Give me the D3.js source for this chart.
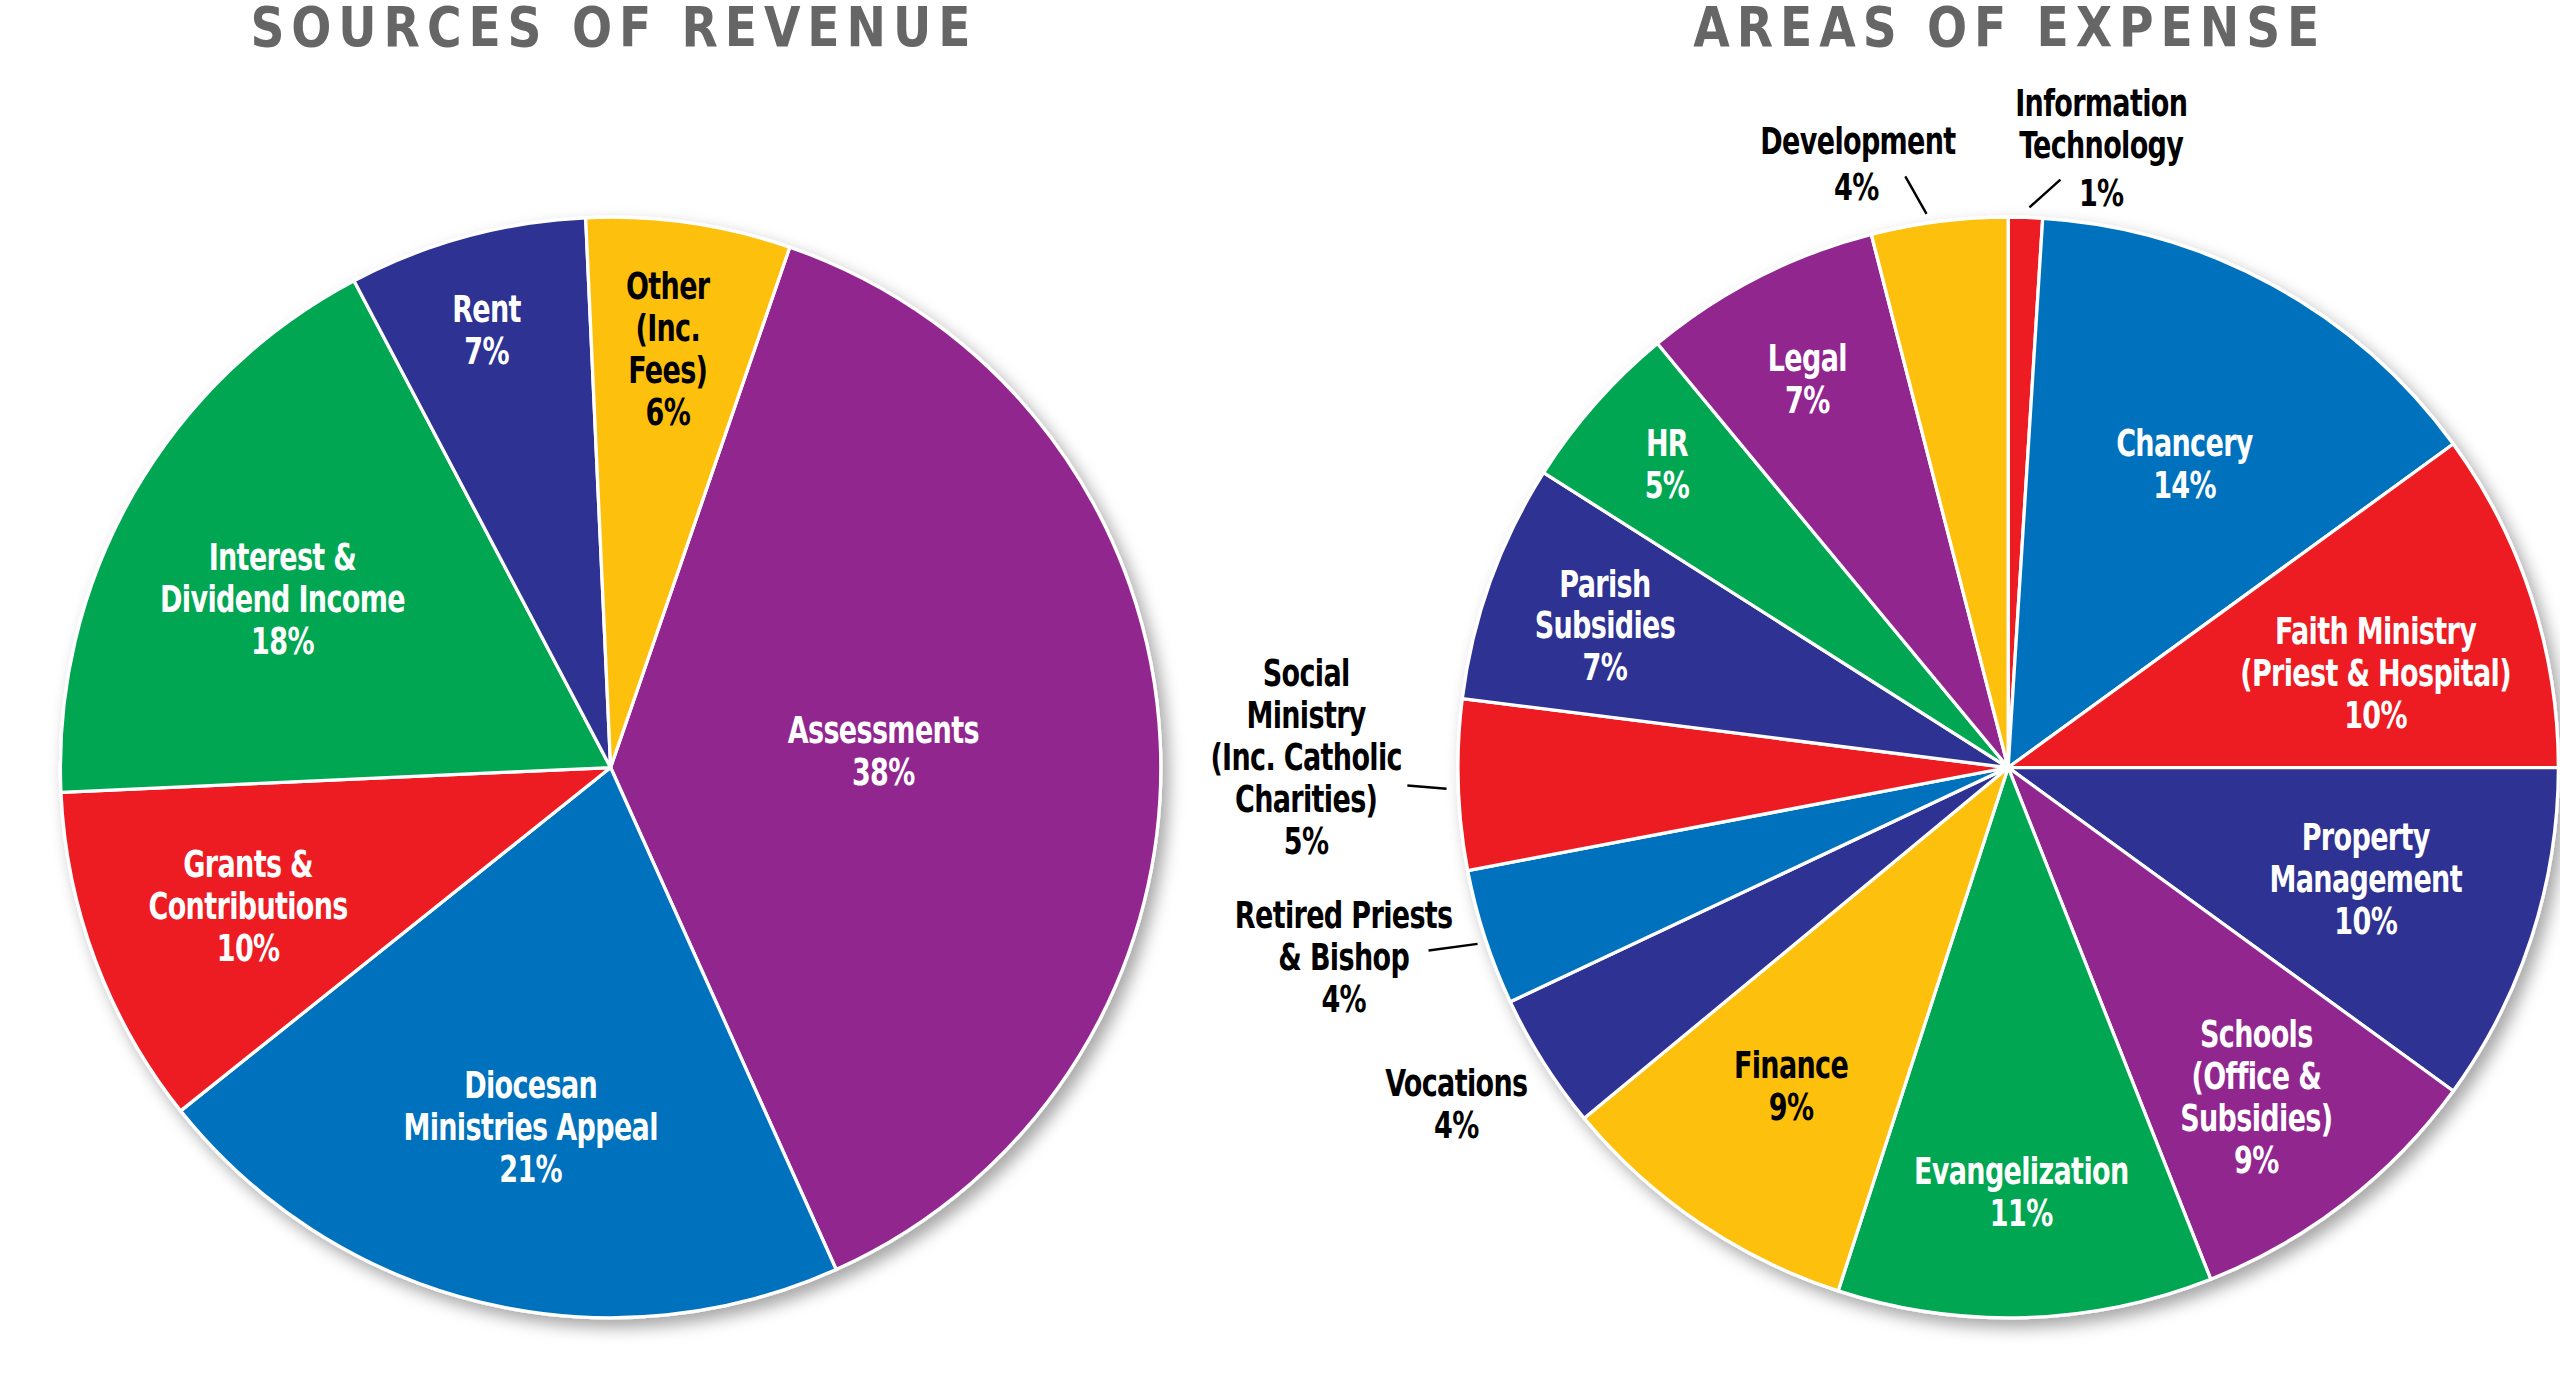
<!DOCTYPE html>
<html><head><meta charset="utf-8">
<script src="https://cdn.jsdelivr.net/npm/d3@7"></script>
<style>html,body{margin:0;padding:0;background:#fff;overflow:hidden}</style>
</head><body>
<script>
// Revenue data (clockwise from Assessments)
const revCats = ["Assessments","Diocesan Ministries Appeal","Grants & Contributions","Interest & Dividend Income","Rent","Other (Inc. Fees)"];
const revVals = [38,21,10,18,7,6];
const revColors = ["#92278f","#0071bc","#ed1c24","#00a651","#2e3192","#fdc010"];
const revLabels = [
  {lines:["Assessments","38%"],x:541,y:447,c:"#fff"},
  {lines:["Diocesan","Ministries Appeal","21%"],x:325,y:664,c:"#fff"},
  {lines:["Grants &","Contributions","10%"],x:152,y:529,c:"#fff"},
  {lines:["Interest &","Dividend Income","18%"],x:173,y:341,c:"#fff"},
  {lines:["Rent","7%"],x:298,y:189,c:"#fff"},
  {lines:["Other","(Inc.","Fees)","6%"],x:409,y:175,c:"#000"}
];
// Expense data (clockwise from top)
const expCats = ["Information Technology","Chancery","Faith Ministry","Property Management","Schools","Evangelization","Finance","Vocations","Retired Priests & Bishop","Social Ministry","Parish Subsidies","HR","Legal","Development"];
const expVals = [1,14,10,10,9,11,9,4,4,5,7,5,7,4];
const expColors = ["#ed1c24","#0071bc","#ed1c24","#2e3192","#92278f","#00a651","#fdc010","#2e3192","#0071bc","#ed1c24","#2e3192","#00a651","#92278f","#fdc010"];
const expLabels = [
  {lines:["Information","Technology"],x:1287,y:63,c:"#000"},
  {lines:["1%"],x:1287,y:118,c:"#000"},
  {lines:["Development"],x:1138,y:86,c:"#000"},
  {lines:["4%"],x:1137,y:114,c:"#000"},
  {lines:["Chancery","14%"],x:1338,y:271,c:"#fff"},
  {lines:["Faith Ministry","(Priest & Hospital)","10%"],x:1455,y:386,c:"#fff"},
  {lines:["Property","Management","10%"],x:1449,y:512,c:"#fff"},
  {lines:["Schools","(Office &","Subsidies)","9%"],x:1382,y:633,c:"#fff"},
  {lines:["Evangelization","11%"],x:1238,y:717,c:"#fff"},
  {lines:["Finance","9%"],x:1097,y:652,c:"#000"},
  {lines:["Vocations","4%"],x:892,y:663,c:"#000"},
  {lines:["Retired Priests","& Bishop","4%"],x:823,y:560,c:"#000"},
  {lines:["Social","Ministry","(Inc. Catholic","Charities)","5%"],x:800,y:412,c:"#000"},
  {lines:["Parish","Subsidies","7%"],x:983,y:357,c:"#fff"},
  {lines:["HR","5%"],x:1021,y:271,c:"#fff"},
  {lines:["Legal","7%"],x:1107,y:219,c:"#fff"}
];
const leaders = [[1243,127,1262,110],[1167,108,1180,131],[875,582,905,578],[862,481,886,483]];

const W=1568,H=842;
const svg=d3.select("body").append("svg").attr("width",2560).attr("height",1375)
  .attr("viewBox",`0 0 ${W} ${H}`).attr("preserveAspectRatio","none");
const defs=svg.append("defs");
const f=defs.append("filter").attr("id","sh").attr("x","-10%").attr("y","-10%").attr("width","125%").attr("height","125%");
f.append("feDropShadow").attr("dx",4).attr("dy",5).attr("stdDeviation",5).attr("flood-color","#000").attr("flood-opacity",0.35);

const font="'Liberation Sans Narrow','DejaVu Sans Condensed','DejaVu Sans',sans-serif";
function drawPie(cx,cy,r,vals,colors,startDeg){
  const pie=d3.pie().sort(null).value(d=>d)
    .startAngle(startDeg*Math.PI/180).endAngle((startDeg+360)*Math.PI/180);
  const arc=d3.arc().innerRadius(0).outerRadius(r);
  const g=svg.append("g").attr("transform",`translate(${cx},${cy})`);
  const gg=g.append("g").attr("filter","url(#sh)");
  gg.selectAll("path").data(pie(vals)).join("path")
    .attr("d",arc).attr("fill",(d,i)=>colors[i]).attr("stroke","#fff").attr("stroke-width",2).attr("stroke-linejoin","round");
}
drawPie(374,470,337,revVals,revColors,19);
drawPie(1230,470,337,expVals,expColors,0);

function labels(arr){
  arr.forEach(l=>{
    const t=svg.append("text").attr("transform",`translate(${l.x},0) scale(0.8,1)`)
      .attr("text-anchor","middle").attr("font-family",font)
      .attr("font-weight","bold").attr("font-size",23).attr("fill",l.c).attr("letter-spacing","-0.5");
    l.lines.forEach((s,i)=>t.append("tspan").attr("x",0).attr("y",l.y+i*25.7).attr("dy","0.36em").text(s));
  });
}
labels(revLabels); labels(expLabels);
svg.selectAll("line.ld").data(leaders).join("line").attr("x1",d=>d[0]).attr("y1",d=>d[1]).attr("x2",d=>d[2]).attr("y2",d=>d[3])
  .attr("stroke","#000").attr("stroke-width",1.5);

const titles=[{t:"SOURCES OF REVENUE",x:376},{t:"AREAS OF EXPENSE",x:1231}];
svg.selectAll("text.title").data(titles).join("text").attr("class","title")
  .attr("transform",d=>`translate(${d.x},0) scale(0.85,1)`)
  .attr("x",0).attr("y",28).attr("text-anchor","middle").attr("font-family","'DejaVu Sans',sans-serif")
  .attr("font-weight","bold").attr("font-size",34).attr("letter-spacing","5").attr("fill","#666").text(d=>d.t);
</script>
</body></html>
